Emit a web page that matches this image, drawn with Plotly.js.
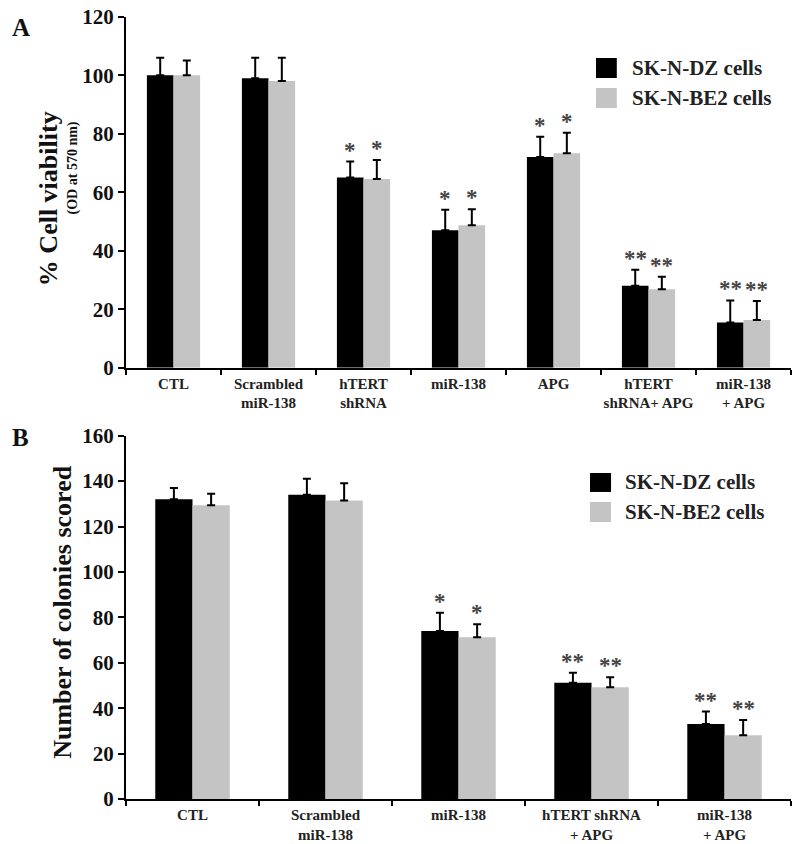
<!DOCTYPE html>
<html>
<head>
<meta charset="utf-8">
<script src="https://cdn.plot.ly/plotly-3.0.1.min.js"></script>
<style>html,body{margin:0;padding:0;background:#fff;}#chart{width:800px;height:844px;}</style>
</head>
<body>
<div id="chart"></div>
<script>
// ---- Data: panel A (cell viability) ----
const catsA = ["CTL", "Scrambled<br>miR-138", "hTERT<br>shRNA", "miR-138", "APG", "hTERT<br>shRNA+ APG", "miR-138<br>+ APG"];
const dzA = [100, 99, 65, 47, 72, 28, 15.5];
const dzAerr = [6, 7, 5.5, 7, 7, 5.5, 7.5];
const be2A = [100, 98, 64.5, 48.7, 73.3, 26.8, 16.3];
const be2Aerr = [5, 8, 6.5, 5.5, 7, 4.3, 6.5];
const starsA = ["", "", "*", "*", "*", "**", "**"];

// ---- Data: panel B (colony formation) ----
const catsB = ["CTL", "Scrambled<br>miR-138", "miR-138", "hTERT shRNA<br>+ APG", "miR-138<br>+ APG"];
const dzB = [132, 134, 74, 51.2, 33];
const dzBerr = [5, 7, 8, 4.4, 5.5];
const be2B = [129.4, 131.4, 71.2, 49.2, 28.1];
const be2Berr = [5, 7.7, 5.8, 4.4, 6.7];
const starsB = ["", "", "*", "**", "**"];

const seriesNames = ["SK-N-DZ cells", "SK-N-BE2 cells"];
const colDZ = "#000000";
const colBE2 = "#c4c4c4";
const FONT = "Liberation Serif, Times New Roman, serif";
const BARGAP = 0.44;

function zeros(n){ return new Array(n).fill(0); }
function barTrace(x, y, err, name, color, xa, ya){
  return {
    type: "bar", x: x, y: y, name: name, xaxis: xa, yaxis: ya,
    marker: {color: color, line: {width: 0}},
    showlegend: false,
    error_y: {type: "data", array: err, arrayminus: zeros(err.length), symmetric: false,
              color: "#000", thickness: 2, width: 4},
    hoverinfo: "y"
  };
}

const data = [
  barTrace(catsA, dzA, dzAerr, seriesNames[0], colDZ, "x", "y"),
  barTrace(catsA, be2A, be2Aerr, seriesNames[1], colBE2, "x", "y"),
  barTrace(catsB, dzB, dzBerr, seriesNames[0], colDZ, "x2", "y2"),
  barTrace(catsB, be2B, be2Berr, seriesNames[1], colBE2, "x2", "y2")
];

// significance stars
const annotations = [];
const off = (1 - BARGAP) / 4;
function addStars(vals, errs, stars, sign, xref, yref){
  vals.forEach((v, i) => {
    if (!stars[i]) return;
    annotations.push({
      x: i + sign * off, y: v + errs[i], xref: xref, yref: yref,
      text: stars[i], showarrow: false, yanchor: "bottom", xanchor: "center",
      font: {family: FONT, size: 23, color: "#444", weight: "bold"}, yshift: -3
    });
  });
}
addStars(dzA, dzAerr, starsA, -1, "x", "y");
addStars(be2A, be2Aerr, starsA, 1, "x", "y");
addStars(dzB, dzBerr, starsB, -1, "x2", "y2");
addStars(be2B, be2Berr, starsB, 1, "x2", "y2");

// panel letters & axis titles
const bold = (size, color) => ({family: FONT, size: size, color: color || "#111", weight: "bold"});
function paperText(x, y, text, font, angle){
  annotations.push({xref: "paper", yref: "paper", x: x, y: y, text: text, showarrow: false,
                    xanchor: "center", yanchor: "middle", textangle: angle || 0, font: font});
}
paperText(0.026, 0.967, "A", bold(25));
paperText(0.026, 0.482, "B", bold(25));
paperText(0.061, 0.765, "% Cell viability", bold(26), -90);
paperText(0.0906, 0.801, "(OD at 570 nm)", bold(14), -90);
paperText(0.0788, 0.274, "Number of colonies scored", bold(26), -90);

// custom legends (square swatches)
const shapes = [];
function legend(x0, x1, rows, textX){
  rows.forEach((r, k) => {
    shapes.push({type: "rect", xref: "paper", yref: "paper", x0: x0, x1: x1, y0: r.y0, y1: r.y1,
                 fillcolor: r.color, line: {width: 0}});
    annotations.push({xref: "paper", yref: "paper", x: textX, y: (r.y0 + r.y1) / 2, xanchor: "left",
                      yanchor: "middle", text: seriesNames[k], showarrow: false, font: bold(21, "#222")});
  });
}
legend(0.745, 0.771, [{y0: 0.9076, y1: 0.9313, color: colDZ}, {y0: 0.872, y1: 0.8957, color: colBE2}], 0.7875);
legend(0.7375, 0.7638, [{y0: 0.4171, y1: 0.4396, color: colDZ}, {y0: 0.3815, y1: 0.4052, color: colBE2}], 0.779);

const xAxisCommon = {
  type: "category", domain: [0.1575, 0.9888], showline: true, linecolor: "#000", linewidth: 2,
  ticks: "outside", tickson: "boundaries", ticklen: 5, tickwidth: 2, tickcolor: "#000",
  showgrid: false, zeroline: false, tickangle: 0, ticklabelstandoff: 1,
  tickfont: {family: FONT, size: 15, color: "#222", weight: "bold"}, fixedrange: true
};
const yAxisCommon = {
  showline: true, linecolor: "#000", linewidth: 2, ticks: "outside", ticklen: 6, tickwidth: 2,
  tickcolor: "#000", showgrid: false, zeroline: false,
  tickfont: {family: FONT, size: 21, color: "#111", weight: "bold"}, fixedrange: true
};

const layout = {
  width: 800, height: 844,
  margin: {l: 0, r: 0, t: 0, b: 0},
  paper_bgcolor: "#fff", plot_bgcolor: "#fff",
  barmode: "group", bargap: BARGAP, bargroupgap: 0,
  showlegend: false,
  xaxis: Object.assign({}, xAxisCommon, {anchor: "y"}),
  yaxis: Object.assign({}, yAxisCommon, {domain: [0.5643, 0.9802], range: [0, 120], dtick: 20, anchor: "x"}),
  xaxis2: Object.assign({}, xAxisCommon, {anchor: "y2"}),
  yaxis2: Object.assign({}, yAxisCommon, {domain: [0.0533, 0.4838], range: [0, 160], dtick: 20, anchor: "x2"}),
  annotations: annotations,
  shapes: shapes
};

Plotly.newPlot("chart", data, layout, {displayModeBar: false, staticPlot: true});
</script>
</body>
</html>
